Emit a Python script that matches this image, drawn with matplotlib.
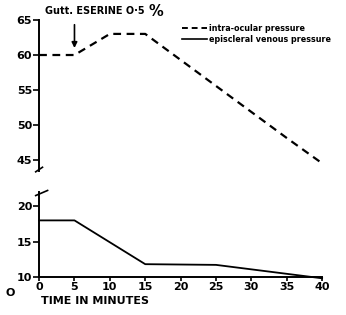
import numpy as np
import matplotlib
matplotlib.use("Agg")
import matplotlib.pyplot as plt

# intra-ocular pressure (top panel)
t_iop = [0, 5, 10, 15, 20, 25, 30, 35, 40]
iop = [60, 60, 63, 63, 59.3, 55.6, 51.9, 48.2, 44.6]

# episcleral venous pressure (bottom panel)
t_evp = [0, 5, 15, 25, 40]
evp = [18, 18, 11.8, 11.7, 9.8]

x_ticks = [0, 5, 10, 15, 20, 25, 30, 35, 40]
top_ticks = [45, 50, 55, 60, 65]
bot_ticks = [10, 15, 20]

plt.rcParams['font.family'] = ['DejaVu Sans']
plt.rcParams['font.weight'] = 'bold'

fig = plt.figure(figsize=(3.46, 3.15), dpi=100)
ax1 = fig.add_axes([0.113, 0.457, 0.818, 0.48])
ax2 = fig.add_axes([0.113, 0.121, 0.818, 0.269])

lw = 1.4
ax1.plot(t_iop, iop, color='black', lw=1.6, ls=(0, (3.5, 2.5)), clip_on=False)
ax2.plot(t_evp, evp, color='black', lw=1.3, clip_on=False)

ax1.set_xlim(0, 40)
ax1.set_ylim(43.5, 65)
ax2.set_xlim(0, 40)
ax2.set_ylim(10, 22)

for ax in (ax1, ax2):
    for s in ('top', 'right'):
        ax.spines[s].set_visible(False)
    ax.spines['left'].set_linewidth(lw)
    ax.tick_params(axis='y', direction='out', length=4, width=1.2, labelsize=8, pad=1)

ax1.spines['bottom'].set_visible(False)
ax1.set_xticks([])
ax1.set_yticks(top_ticks)
ax2.set_yticks(bot_ticks)
ax2.set_xticks(x_ticks)
ax2.set_xticklabels([str(v) for v in x_ticks], fontsize=8, fontweight='bold')
ax2.spines['bottom'].set_linewidth(lw)
ax2.tick_params(axis='x', direction='out', length=3, width=1.2, pad=1)
for lab in ax1.get_yticklabels() + ax2.get_yticklabels():
    lab.set_fontweight('bold')

fig.text(0.118, 0.035, 'TIME IN MINUTES', fontsize=8, fontweight='bold')

# axis break marks
ax1.plot([-0.012, 0.012], [-0.005, 0.025], transform=ax1.transAxes, color='black', lw=1.2, clip_on=False)
ax2.plot([-0.012, 0.03], [0.96, 1.02], transform=ax2.transAxes, color='black', lw=1.2, clip_on=False)

# drug annotation
ax1.annotate('', xy=(5, 60.6), xytext=(5, 64.7),
             arrowprops=dict(arrowstyle='-|>', color='black', lw=1.2, mutation_scale=8),
             annotation_clip=False)
fig.text(0.13, 0.955, 'Gutt. ESERINE O·5', fontsize=7, fontweight='bold', va='baseline')
fig.text(0.428, 0.95, '%', fontsize=10.5, fontweight='bold', va='baseline')

# legend
fig.legend([plt.Line2D([], [], color='black', lw=1.4, ls=(0, (3, 2))),
            plt.Line2D([], [], color='black', lw=1.2)],
           ['intra-ocular pressure', 'episcleral venous pressure'],
           loc='upper left', bbox_to_anchor=(0.525, 0.925), frameon=False,
           fontsize=5.8, handlelength=3.2, handletextpad=0.25, labelspacing=0.25,
           borderaxespad=0, borderpad=0)

fig.text(0.015, 0.06, 'O', fontsize=8, fontweight='bold')

fig.savefig('out.png', dpi=100)
